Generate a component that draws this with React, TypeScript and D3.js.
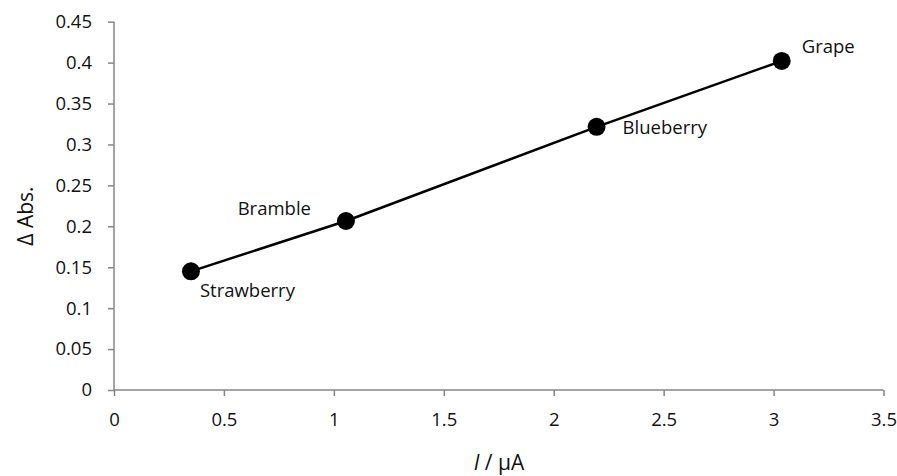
import React, { useEffect, useRef } from 'react';
import * as d3 from 'd3';

const fruits = ['Strawberry', 'Bramble', 'Blueberry', 'Grape'];
const current = [0.35, 1.055, 2.195, 3.037];
const deltaAbs = [0.145, 0.2065, 0.3215, 0.402];
const xTicks = [0, 0.5, 1, 1.5, 2, 2.5, 3, 3.5];
const yTicks = [0, 0.05, 0.1, 0.15, 0.2, 0.25, 0.3, 0.35, 0.4, 0.45];

// label offsets relative to each point (Excel-style placement)
const labelPos = [
  { dx: 9, dy: 21, anchor: 'start' },
  { dx: -35, dy: -11, anchor: 'end' },
  { dx: 26, dy: 2, anchor: 'start' },
  { dx: 20, dy: -13, anchor: 'start' },
];

const W = 897;
const H = 476;
const FONT = '"Open Sans", "Liberation Sans", sans-serif';

const App = () => {
  const ref = useRef<SVGSVGElement>(null);

  useEffect(() => {
    const svg = d3.select(ref.current);
    svg.selectAll('*').remove();

    const x = d3.scaleLinear().domain([0, 3.5]).range([114, 883.5]);
    const y = d3.scaleLinear().domain([0, 0.45]).range([390, 21.7]);

    const xAxis = svg.append('g')
      .attr('transform', 'translate(0,390)')
      .call(d3.axisBottom(x).tickValues(xTicks).tickSize(6).tickPadding(17)
        .tickFormat(d => d3.format('')(d as number)));
    const yAxis = svg.append('g')
      .attr('transform', 'translate(114,0)')
      .call(d3.axisLeft(y).tickValues(yTicks).tickSize(6).tickPadding(16)
        .tickFormat(d => d3.format('')(d as number)));

    [xAxis, yAxis].forEach(ax => {
      ax.selectAll('line').attr('stroke', '#868686').attr('stroke-width', 1.5);
      ax.select('.domain').remove();
      ax.selectAll('text')
        .attr('font-family', FONT)
        .attr('font-size', 18.5)
        .attr('fill', '#111');
    });
    svg.append('line')
      .attr('x1', x(0)).attr('x2', x(3.5)).attr('y1', y(0)).attr('y2', y(0))
      .attr('stroke', '#868686').attr('stroke-width', 1.5);
    svg.append('line')
      .attr('x1', x(0)).attr('x2', x(0)).attr('y1', y(0)).attr('y2', y(0.45))
      .attr('stroke', '#868686').attr('stroke-width', 1.5);

    const pts = current.map((c, i) => ({ c, a: deltaAbs[i], name: fruits[i], lp: labelPos[i] }));

    svg.append('path')
      .datum(pts)
      .attr('fill', 'none')
      .attr('stroke', '#000')
      .attr('stroke-width', 2.5)
      .attr('d', d3.line<any>().x(d => x(d.c)).y(d => y(d.a)));

    svg.selectAll('circle')
      .data(pts)
      .enter()
      .append('circle')
      .attr('cx', d => x(d.c))
      .attr('cy', d => y(d.a))
      .attr('r', 9)
      .attr('fill', '#000');

    svg.selectAll('.lbl')
      .data(pts)
      .enter()
      .append('text')
      .attr('class', 'lbl')
      .attr('x', d => x(d.c) + d.lp.dx)
      .attr('y', d => y(d.a) + d.lp.dy)
      .attr('text-anchor', d => d.lp.anchor)
      .attr('dominant-baseline', 'middle')
      .attr('font-family', FONT)
      .attr('font-size', 18.5)
      .attr('fill', '#111')
      .text(d => d.name);

    svg.append('text')
      .attr('transform', 'translate(33,216) rotate(-90)')
      .attr('text-anchor', 'middle')
      .attr('font-family', FONT)
      .attr('font-size', 21)
      .attr('fill', '#111')
      .text('Δ Abs.');

    const xl = svg.append('text')
      .attr('x', 499)
      .attr('y', 470)
      .attr('text-anchor', 'middle')
      .attr('font-family', FONT)
      .attr('font-size', 21)
      .attr('fill', '#111');
    xl.append('tspan').attr('font-style', 'italic').text('I');
    xl.append('tspan').text(' / μA');
  }, []);

  return (
    <svg ref={ref} width={W} height={H}
      style={{ position: 'absolute', left: 0, top: 0, background: '#fff' }} />
  );
};

export default App;
